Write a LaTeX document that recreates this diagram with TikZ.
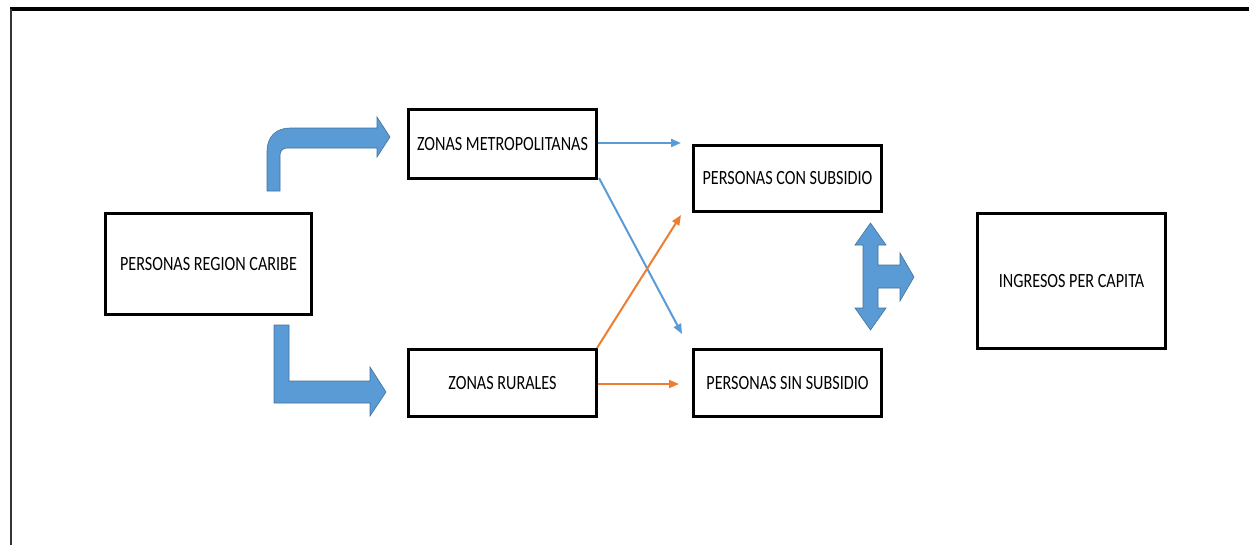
\documentclass[tikz,border=0pt]{standalone}
\usepackage{fontspec}
\setmainfont{Carlito}[FakeStretch=0.8]
\usetikzlibrary{arrows.meta,calc}
\definecolor{ablue}{HTML}{5B9BD5}
\definecolor{ablueline}{HTML}{41719C}
\definecolor{aorange}{HTML}{ED7D31}
\begin{document}
\begin{tikzpicture}[x=1pt,y=-1pt,
  box/.style={draw=black,line width=3pt,fill=white,inner sep=0pt,align=center,
    font=\fontsize{20.2}{23}\selectfont},
  bluecon/.style={draw=ablue,line width=2pt,-{Triangle[length=10pt,width=8pt]}},
  orangecon/.style={draw=aorange,line width=2pt,-{Triangle[length=10pt,width=8pt]}},
  fatarrow/.style={fill=ablue,draw=ablueline,line width=0.6pt,line join=miter}]
\useasboundingbox (0,0) rectangle (1249,544);
% outer frame
\draw[line width=3.5pt] (10,9) -- (1252,9);
\draw[line width=1.6pt,black!80] (11,9) -- (11,547);
% boxes
\node[box,minimum width=206pt,minimum height=101pt] (prc) at (208.5,264) {PERSONAS REGION CARIBE};
\node[box,minimum width=188pt,minimum height=69pt] (zm) at (502.5,144) {ZONAS METROPOLITANAS};
\node[box,minimum width=188pt,minimum height=67pt] (zr) at (502.5,383) {ZONAS RURALES};
\node[box,minimum width=188pt,minimum height=66pt] (con) at (787.5,178.5) {PERSONAS CON SUBSIDIO};
\node[box,minimum width=188pt,minimum height=67pt] (sin) at (787.5,383) {PERSONAS SIN SUBSIDIO};
\node[box,minimum width=188pt,minimum height=135pt] (ing) at (1071.5,281) {INGRESOS PER CAPITA};
% connector end points
\coordinate (b1) at (681,143);
\coordinate (b2) at (682,334);
\coordinate (o1) at (681,215);
\coordinate (o2) at (679,384);
\draw[bluecon] (zm.east |- b1) -- (b1);
\draw[bluecon] ($(zm.south east)+(1,-2)$) -- (b2);
\draw[orangecon] ($(zr.north east)+(-1,0)$) -- (o1);
\draw[orangecon] (zr.east |- o2) -- (o2);
% bent arrow (top)
\path[fatarrow] (267,191) -- (267,151) .. controls (267,137) and (276,128) .. (290,128)
  -- (377,128) -- (377,117) -- (390,137) -- (377,157) -- (377,148) -- (287,148)
  .. controls (283,148) and (280,151) .. (280,155) -- (280,191) -- cycle;
% L arrow (bottom)
\path[fatarrow] (274,325) -- (274,403) -- (370,403) -- (370,416) -- (386,392)
  -- (370,367) -- (370,381) -- (289,381) -- (289,325) -- cycle;
% triple arrow
\path[fatarrow] (870.5,223) -- (886,245) -- (878,245) -- (878,265) -- (900,265)
  -- (900,253) -- (914,277) -- (900,301) -- (900,288) -- (878,288) -- (878,308)
  -- (886,308) -- (870.5,330) -- (855,308) -- (863,308) -- (863,245) -- (855,245) -- cycle;
\end{tikzpicture}
\end{document}
